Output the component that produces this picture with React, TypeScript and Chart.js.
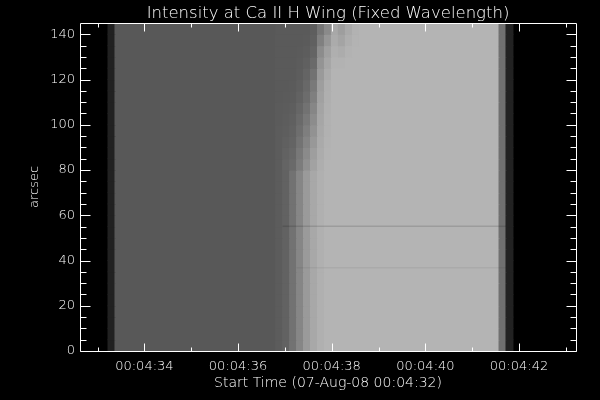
import React, { useEffect, useRef } from "react";
import { Chart, registerables } from "chart.js";

Chart.register(...registerables);

const FONT = "'DejaVu Sans', 'Liberation Sans', sans-serif";
const FONT_WEIGHT = "200";

const titleText = "Intensity at Ca II H Wing (Fixed Wavelength)";
const xTitleText = "Start Time (07-Aug-08 00:04:32)";
const yTitleText = "arcsec";

// exposure boundaries, seconds after 00:04:32
const frameEdges = [
  1.223, 1.372, 1.521, 1.67, 1.819, 1.969, 2.118, 2.267, 2.416, 2.565,
  2.714, 2.863, 3.012, 3.161, 3.31, 3.46, 3.609, 3.758, 3.907, 4.056,
  4.205, 4.354, 4.503, 4.652, 4.801, 4.951, 5.1, 5.249, 5.398, 5.547,
  5.696, 5.845, 5.994, 6.143, 6.292, 6.442, 6.591, 6.74, 6.889, 7.038,
  7.187, 7.336, 7.485, 7.634, 7.783, 7.933, 8.082, 8.231, 8.38, 8.529,
  8.678, 8.827, 8.976, 9.125, 9.274, 9.424, 9.573, 9.722, 9.871,
];

// slit rows (arcsec), lower part of slit and upper part
const lowerRowStarts = [0, 5, 10, 15, 20, 25, 30, 35, 40, 45, 50, 55, 60, 65, 70, 75];
const upperRowStarts = [80, 85, 90, 95, 100, 105, 110, 115, 120, 125, 130, 135, 140];
const rowHeight = 5;

// grey level per exposure (lower slit)
const frameGray = [
  33, 88, 88, 88, 88, 88, 88, 88, 88, 88,
  88, 88, 88, 88, 88, 88, 88, 88, 88, 88,
  88, 88, 88, 88, 92, 98, 114, 134, 154, 168,
  176, 180, 180, 180, 180, 180, 180, 180, 180, 180,
  180, 180, 180, 180, 180, 180, 180, 180, 180, 180,
  180, 180, 180, 180, 180, 180, 112, 34,
];

// grey level of transition exposures for the upper slit rows (80 → 140 arcsec)
const transitionFirstFrame = 24;
const transitionUpperGray = [
  [92, 92, 92, 92, 91, 91, 90, 90, 90, 90, 90, 90, 90],
  [100, 98, 96, 94, 93, 92, 91, 90, 90, 90, 90, 90, 90],
  [106, 103, 100, 98, 96, 94, 92, 91, 90, 90, 90, 90, 90],
  [124, 120, 115, 110, 106, 102, 98, 95, 93, 92, 91, 90, 90],
  [144, 138, 132, 126, 120, 114, 108, 104, 100, 96, 93, 91, 90],
  [162, 158, 152, 146, 140, 134, 127, 121, 114, 106, 100, 96, 94],
  [174, 172, 170, 168, 166, 164, 161, 158, 154, 148, 140, 128, 118],
  [180, 179, 178, 177, 177, 176, 175, 174, 171, 166, 160, 150, 138],
  [180, 180, 180, 180, 180, 180, 180, 180, 180, 178, 175, 171, 168],
  [180, 180, 180, 180, 180, 180, 180, 180, 180, 178, 172, 164, 158],
  [180, 180, 180, 180, 180, 180, 180, 180, 180, 180, 178, 174, 170],
  [180, 180, 180, 180, 180, 180, 180, 180, 180, 180, 180, 179, 178],
];

// dark streaks along the slit
const streakArcsec = 55.2;
const streakTimes = [4.951, 9.722];
const faintStreakArcsec = 36.8;
const faintStreakTimes = [5.249, 9.722];

const xTickValues = [2, 4, 6, 8, 10];
const xTickLabels = ["00:04:34", "00:04:36", "00:04:38", "00:04:40", "00:04:42"];
const xMinorTickValues = [1, 3, 5, 7, 9, 11];
const yTickValues = [0, 20, 40, 60, 80, 100, 120, 140];
const yMinorTickValues = [5, 10, 15, 25, 30, 35, 45, 50, 55, 65, 70, 75, 85, 90, 95, 105, 110, 115, 125, 130, 135];

function buildCells() {
  const cells: { x: number[]; y: number }[] = [];
  const colors: string[] = [];
  const rows = [...lowerRowStarts, ...upperRowStarts];
  rows.forEach((r, ri) => {
    const ui = ri - lowerRowStarts.length;
    const grays = frameGray.map((g, c) => {
      const ti = c - transitionFirstFrame;
      if (ui >= 0 && ti >= 0 && ti < transitionUpperGray.length) return transitionUpperGray[ti][ui];
      return g;
    });
    let c = 0;
    while (c < grays.length) {
      let e = c;
      while (e + 1 < grays.length && grays[e + 1] === grays[c]) e++;
      const g = grays[c];
      cells.push({ x: [frameEdges[c], frameEdges[e + 1]], y: r + rowHeight / 2 });
      colors.push(`rgb(${g},${g},${g})`);
      c = e + 1;
    }
  });
  return { cells, colors };
}

const idlFrame = {
  id: "idlFrame",
  afterDatasetsDraw(chart: any) {
    const { ctx, chartArea, scales } = chart;
    const { left, right, top, bottom } = chartArea;
    const xs = scales.x;
    const ys = scales.y;
    ctx.save();
    ctx.strokeStyle = "#ffffff";
    ctx.lineWidth = 1;
    const L = Math.round(left) + 0.5;
    const R = Math.round(right) + 0.5;
    const T = Math.round(top) + 0.5;
    const B = Math.round(bottom) + 0.5;
    ctx.beginPath();
    ctx.rect(L, T, R - L, B - T);
    const xt = (v: number, len: number) => {
      const p = Math.round(xs.getPixelForValue(v)) + 0.5;
      ctx.moveTo(p, B);
      ctx.lineTo(p, B - len);
      ctx.moveTo(p, T);
      ctx.lineTo(p, T + len);
    };
    const yt = (v: number, len: number) => {
      const p = Math.round(ys.getPixelForValue(v)) + 0.5;
      ctx.moveTo(L, p);
      ctx.lineTo(L + len, p);
      ctx.moveTo(R, p);
      ctx.lineTo(R - len, p);
    };
    xTickValues.forEach((v) => xt(v, 8));
    xMinorTickValues.forEach((v) => xt(v, 4));
    yTickValues.forEach((v) => yt(v, 10));
    yMinorTickValues.forEach((v) => yt(v, 6));
    ctx.stroke();
    ctx.restore();
  },
};

export default function App() {
  const ref = useRef<HTMLCanvasElement | null>(null);
  useEffect(() => {
    document.body.style.margin = "0";
    document.body.style.background = "#000";
    const canvas = ref.current;
    if (!canvas) return;
    const { cells, colors } = buildCells();
    const chart = new Chart(canvas, {
      type: "bar",
      data: {
        datasets: [
          {
            type: "line",
            indexAxis: "x",
            data: streakTimes.map((t) => ({ x: t, y: streakArcsec })),
            borderColor: "rgba(0,0,0,0.13)",
            borderWidth: 1.5,
            pointRadius: 0,
            order: 0,
          } as any,
          {
            type: "line",
            indexAxis: "x",
            data: faintStreakTimes.map((t) => ({ x: t, y: faintStreakArcsec })),
            borderColor: "rgba(0,0,0,0.05)",
            borderWidth: 1.5,
            pointRadius: 0,
            order: 0,
          } as any,
          {
            type: "bar",
            indexAxis: "y",
            data: cells as any,
            backgroundColor: colors,
            borderWidth: 0,
            barPercentage: 1,
            categoryPercentage: 1,
            grouped: false,
            inflateAmount: 0.5,
            order: 1,
          } as any,
        ],
      },
      options: {
        indexAxis: "y",
        responsive: false,
        animation: false,
        events: [],
        layout: { padding: { left: 0, right: 24, top: 0, bottom: 0 } },
        plugins: {
          legend: { display: false },
          tooltip: { enabled: false },
          title: {
            display: true,
            fullSize: false,
            text: titleText,
            color: "#ffffff",
            font: { family: FONT, size: 16.5, weight: FONT_WEIGHT, lineHeight: 1 },
            padding: { top: 5, bottom: 1.5 },
          },
        },
        scales: {
          x: {
            type: "linear",
            position: "bottom",
            min: 0.625,
            max: 11.217,
            offset: false,
            grid: { display: false, drawTicks: false, offset: false },
            border: { display: false },
            afterBuildTicks: (s: any) => {
              s.ticks = xTickValues.map((v) => ({ value: v }));
            },
            afterFit: (s: any) => {
              s.height = 49;
            },
            ticks: {
              color: "#ffffff",
              font: { family: FONT, size: 13, weight: FONT_WEIGHT },
              padding: 8,
              maxRotation: 0,
              autoSkip: false,
              callback: (_v: any, i: number) => xTickLabels[i],
            },
            title: {
              display: true,
              text: xTitleText,
              color: "#ffffff",
              font: { family: FONT, size: 14, weight: FONT_WEIGHT, lineHeight: 1.2 },
              padding: { top: 0, bottom: 8 },
            },
          },
          y: {
            type: "linear",
            position: "left",
            min: 0,
            max: 145,
            offset: false,
            grid: { display: false, drawTicks: false, offset: false },
            border: { display: false },
            afterBuildTicks: (s: any) => {
              s.ticks = yTickValues.map((v) => ({ value: v }));
            },
            afterFit: (s: any) => {
              s.width = 80;
            },
            ticks: {
              color: "#ffffff",
              font: { family: FONT, size: 13, weight: FONT_WEIGHT },
              padding: 5,
              autoSkip: false,
              callback: (v: any) => String(v),
            },
            title: {
              display: true,
              text: yTitleText,
              color: "#ffffff",
              font: { family: FONT, size: 13, weight: FONT_WEIGHT, lineHeight: 1.2 },
              padding: { top: 27, bottom: 0 },
            },
          },
        },
      } as any,
      plugins: [idlFrame],
    });
    return () => chart.destroy();
  }, []);
  return (
    <div style={{ position: "fixed", left: 0, top: 0, width: 600, height: 400, background: "#000" }}>
      <canvas ref={ref} width={600} height={400} style={{ display: "block", width: 600, height: 400 }} />
    </div>
  );
}
